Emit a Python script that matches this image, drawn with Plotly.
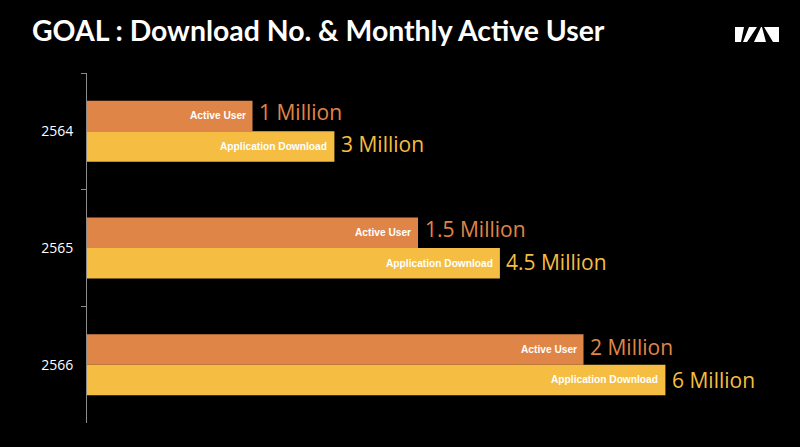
import plotly.graph_objects as go

W, H = 800, 447
ML, MR, MT, MB = 87, 0, 73, 24

years = ["2564", "2565", "2566"]
active_len = [1.0, 2.0, 3.0]
download_len = [1.495, 2.495, 3.495]
active_labels = ["1 Million", "1.5 Million", "2 Million"]
download_labels = ["3 Million", "4.5 Million", "6 Million"]
active_name = "Active User"
download_name = "Application Download"
title = "GOAL : Download No. & Monthly Active User"

ORANGE = "#E08548"
YELLOW = "#F5BD41"
VALUE_FONT = "Open Sans"
active_label_shift = [-19, -19, -18]
download_label_shift = [13, 14, 15]

fig = go.Figure()
fig.add_bar(y=years, x=active_len, orientation="h", name=active_name,
            marker=dict(color=ORANGE, line_width=0))
fig.add_bar(y=years, x=download_len, orientation="h", name=download_name,
            marker=dict(color=YELLOW, line_width=0))

ann = []
for i, yr in enumerate(years):
    for xv, name, lab, col, dy_in, dy_out in [
        (active_len[i], active_name, active_labels[i], ORANGE, -15.5, active_label_shift[i]),
        (download_len[i], download_name, download_labels[i], YELLOW, 15, download_label_shift[i]),
    ]:
        ann.append(dict(x=xv, y=i, xref="x", yref="y", text=f"<b>{name}</b>",
                        showarrow=False, xanchor="right", xshift=-5, yshift=-dy_in,
                        font=dict(family="Liberation Sans", size=10.2, color="white")))
        ann.append(dict(x=xv, y=i, xref="x", yref="y", text=lab,
                        showarrow=False, xanchor="left", xshift=4.5, yshift=-dy_out,
                        font=dict(family=VALUE_FONT, size=21, color=col)))


def P(px, py):
    return (px - ML) / (W - ML - MR), 1 - (py - MT) / (H - MT - MB)


def poly(pts, color):
    s = []
    for k, (a, b) in enumerate(pts):
        u, v = P(a, b)
        s.append(("M" if k == 0 else "L") + f"{u:.5f},{v:.5f}")
    return dict(type="path", xref="paper", yref="paper", path=" ".join(s) + " Z",
                fillcolor=color, line_width=0, layer="above")


shapes = [
    poly([(735, 27), (779, 27), (779, 42), (735, 42)], "white"),
    poly([(744, 27), (749, 27), (743, 42), (741, 42)], "black"),
    poly([(757, 27), (761, 27), (754, 42), (747, 42)], "black"),
    poly([(762, 27), (764, 27), (773, 42), (766, 42)], "black"),
]

fig.update_layout(
    width=W, height=H,
    paper_bgcolor="black", plot_bgcolor="black",
    margin=dict(l=ML, r=MR, t=MT, b=MB),
    barmode="group", bargap=0.477, bargroupgap=0,
    showlegend=False,
    title=dict(text=f"<b>{title}</b>", x=32 / W, xanchor="left", xref="container",
               y=1 - 31 / H, yanchor="middle", yref="container",
               font=dict(family="Lato", size=28.4, color="white")),
    xaxis=dict(visible=False, range=[0, (W - ML - MR) / 165.5]),
    yaxis=dict(type="category", categoryorder="array", categoryarray=years,
               range=[2.5, -0.5], tickson="boundaries", ticks="outside", ticklen=5,
               tickcolor="#8a8a8a", tickwidth=1, showline=True, linecolor="#8a8a8a",
               linewidth=1, showgrid=False, zeroline=False, ticklabelstandoff=10,
               tickfont=dict(family="Open Sans", size=14, color="white")),
    annotations=ann, shapes=shapes,
)
fig.write_html("out.html", config={"displayModeBar": False},
               post_script="document.body.style.margin='0';document.body.style.background='black';document.documentElement.style.overflow='hidden';")
